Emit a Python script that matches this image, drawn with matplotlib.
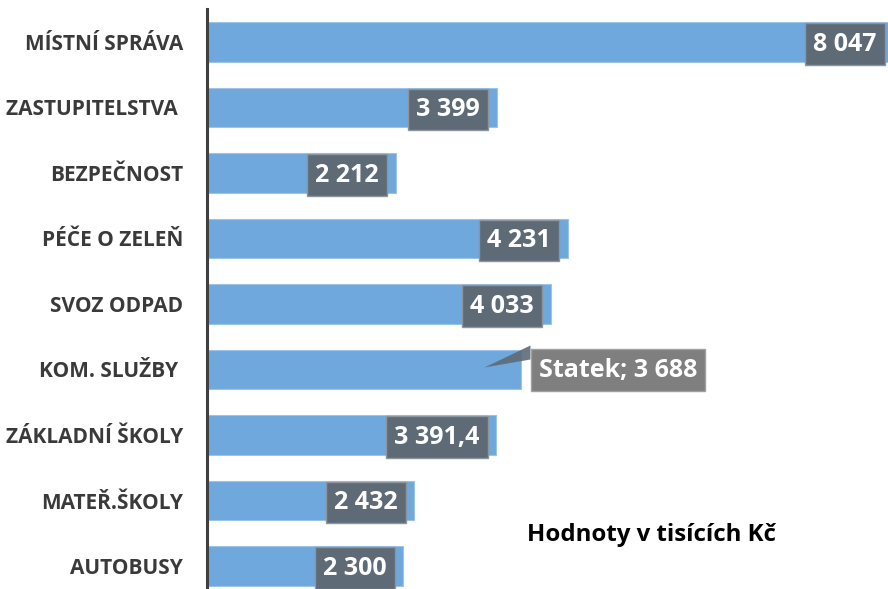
import matplotlib
matplotlib.use('Agg')
import matplotlib.pyplot as plt
from matplotlib.patches import Polygon

plt.rcParams['font.family'] = ['Open Sans', 'DejaVu Sans']

# data
categories = ['MÍSTNÍ SPRÁVA', 'ZASTUPITELSTVA ', 'BEZPEČNOST', 'PÉČE O ZELEŇ',
              'SVOZ ODPAD', 'KOM. SLUŽBY ', 'ZÁKLADNÍ ŠKOLY', 'MATEŘ.ŠKOLY', 'AUTOBUSY']
values = [8047, 3399, 2212, 4231, 4033, 3688, 3391.4, 2432, 2300]
callout_name = 'Statek'
callout_index = 5


def fmt(v):
    if float(v).is_integer():
        return f"{int(v):,}".replace(',', ' ')
    s = f"{v:,.1f}"
    return s.replace(',', ' ').replace('.', ',')


fig = plt.figure(figsize=(8.88, 5.89), dpi=100)
ax = fig.add_axes([0.233, -0.0166, 0.767, 1.001])

y = list(range(len(categories)))
ax.barh(y, values, height=0.6, color='#6FA8DC', edgecolor='#9DC3E6', linewidth=0.8)
ax.set_ylim(len(categories) - 0.5, -0.5)
ax.set_xlim(0, 7985)

ax.set_yticks(y)
ax.set_yticklabels(categories, fontsize=15, fontweight='bold', color='#3A3A3A')
ax.tick_params(axis='y', length=0, pad=17)
ax.tick_params(axis='x', bottom=False, labelbottom=False)
for side in ['top', 'right', 'bottom']:
    ax.spines[side].set_visible(False)
ax.spines['left'].set_color('#404040')
ax.spines['left'].set_linewidth(2.2)

# value labels
for i, v in enumerate(values):
    if i == callout_index:
        continue
    ax.annotate(fmt(v), xy=(v, i), xytext=(-12, -1.5), textcoords='offset points',
                ha='right', va='center', fontsize=18, fontweight='bold', color='white',
                annotation_clip=False,
                bbox=dict(boxstyle='square,pad=0.33', fc='#5E6B77', ec='#8C959E', lw=1))

# callout label for KOM. SLUŽBY
v = values[callout_index]
ax.annotate(f"{callout_name}; {fmt(v)}", xy=(v, callout_index),
            xytext=(12.5, -0.5), textcoords='offset points',
            ha='left', va='center', fontsize=18, fontweight='bold', color='white',
            annotation_clip=False, zorder=4,
            bbox=dict(boxstyle='square,pad=0.33', fc='#7F7F7F', ec='#A0A0A0', lw=1))

# callout pointer (pixel offsets from the bar end)
bx, by = ax.transData.transform((v, callout_index))
pointer = [(bx - 37, by + 2), (bx + 9, by + 24), (bx + 9, by + 10)]
ax.add_patch(Polygon(pointer, closed=True, transform=None, fc='#5E6B77',
                     ec='none', alpha=0.9, zorder=3))

fig.text(527 / 888, 1 - 535 / 589, 'Hodnoty v tisících Kč', ha='left', va='center',
         fontsize=17.3, fontweight='bold', color='black')

fig.savefig('out.png', dpi=100)
